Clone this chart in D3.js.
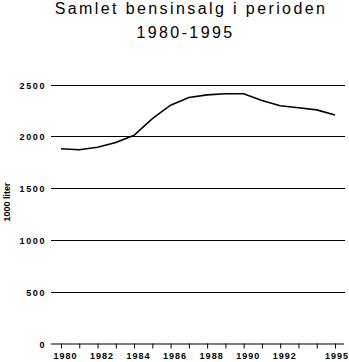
<!DOCTYPE html>
<html>
<head>
<meta charset="utf-8">
<script src="https://cdn.jsdelivr.net/npm/d3@7"></script>
<style>
  body { margin: 0; background: #fff; }
  svg { display: block; }
</style>
</head>
<body>
<div id="vis"></div>
<script>
// data
const years = [1980, 1981, 1982, 1983, 1984, 1985, 1986, 1987, 1988, 1989, 1990, 1991, 1992, 1993, 1994, 1995];
const sales = [1880, 1870, 1895, 1940, 2010, 2170, 2300, 2375, 2400, 2410, 2410, 2345, 2295, 2275, 2255, 2205];
const yTicks = [0, 500, 1000, 1500, 2000, 2500];
const xLabels = [1980, 1982, 1984, 1986, 1988, 1990, 1992, 1995];

const svg = d3.select('#vis')
  .append('svg')
  .attr('width', 349)
  .attr('height', 362);

const x = d3.scaleLinear().domain([1980, 1995]).range([61, 335]);
const y = d3.scaleLinear().domain([0, 2500]).range([343.5, 84.5]);

// title
svg.append('text')
  .attr('x', 191)
  .attr('y', 14)
  .attr('text-anchor', 'middle')
  .style('font-family', 'Liberation Sans, Arial, sans-serif')
  .style('font-size', '16px')
  .style('letter-spacing', '2.4px')
  .text('Samlet bensinsalg i perioden');

svg.append('text')
  .attr('x', 185.5)
  .attr('y', 38)
  .attr('text-anchor', 'middle')
  .style('font-family', 'Liberation Sans, Arial, sans-serif')
  .style('font-size', '16px')
  .style('letter-spacing', '2.4px')
  .text('1980-1995');

// horizontal grid lines (not the zero line, that is the axis)
svg.selectAll('.grid')
  .data(yTicks.filter(d => d > 0))
  .enter()
  .append('line')
  .attr('class', 'grid')
  .attr('x1', 51)
  .attr('x2', 345)
  .attr('y1', d => Math.round(y(d)) + 0.5)
  .attr('y2', d => Math.round(y(d)) + 0.5)
  .attr('stroke', 'black')
  .attr('stroke-width', 1);

// y labels
svg.selectAll('.ylab')
  .data(yTicks)
  .enter()
  .append('text')
  .attr('class', 'ylab')
  .attr('x', 46)
  .attr('y', d => Math.round(y(d)) + 3.5)
  .attr('text-anchor', 'end')
  .style('font-family', 'Liberation Sans, Arial, sans-serif')
  .style('font-size', '9px')
  .style('font-weight', 'bold')
  .style('letter-spacing', '1.6px')
  .text(d => d);

// x axis
const xAxis = d3.axisBottom(x)
  .tickValues(years)
  .tickSize(5)
  .tickSizeOuter(0)
  .tickFormat(d => xLabels.includes(d) ? d : '');

const gx = svg.append('g')
  .attr('transform', 'translate(0,' + (Math.round(y(0)) - 0.5) + ')')
  .call(xAxis);

gx.select('.domain')
  .attr('d', 'M51,0.5H344');
gx.selectAll('.tick line').attr('stroke', 'black');
gx.selectAll('.tick text')
  .attr('y', 15)
  .attr('dy', 0)
  .attr('dx', d => d === 1995 ? 1.5 : 4)
  .style('font-family', 'Liberation Sans, Arial, sans-serif')
  .style('font-size', '9px')
  .style('font-weight', 'bold')
  .style('letter-spacing', '1px')
  .attr('fill', 'black');

// y axis title
svg.append('text')
  .attr('transform', 'translate(10,202) rotate(-90)')
  .attr('text-anchor', 'middle')
  .style('font-family', 'Liberation Sans, Arial, sans-serif')
  .style('font-size', '9px')
  .style('font-weight', 'bold')
  .text('1000 liter');

// the line
const line = d3.line()
  .x((d, i) => x(years[i]))
  .y(d => y(d));

svg.append('path')
  .datum(sales)
  .attr('d', line)
  .attr('fill', 'none')
  .attr('stroke', 'black')
  .attr('stroke-width', 1.6);
</script>
</body>
</html>
